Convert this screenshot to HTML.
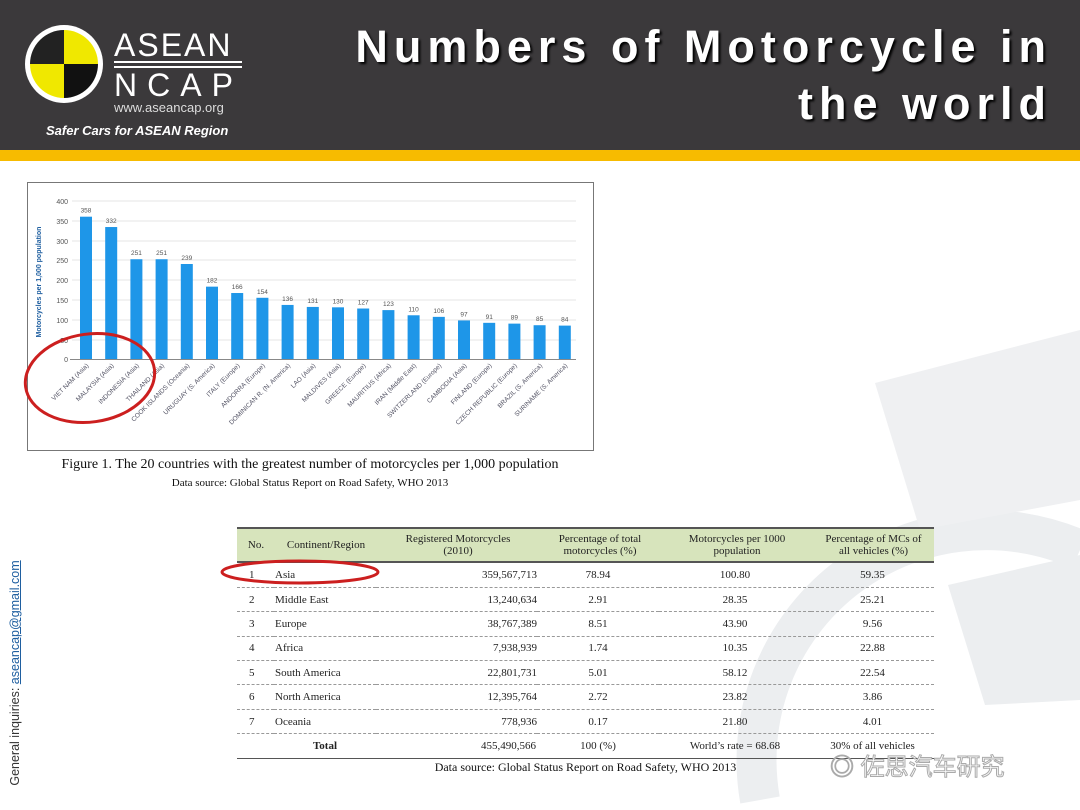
<!DOCTYPE html>
<html><head><meta charset="utf-8"><style>
body{margin:0;width:1080px;height:810px;overflow:hidden;background:#fff;position:relative;font-family:"Liberation Sans",sans-serif}
.hdr{position:absolute;left:0;top:0;width:1080px;height:150px;background:#3b393b}
.yb{position:absolute;left:0;top:150px;width:1080px;height:11px;background:#f7bb00}
.title{position:absolute;right:28px;top:18px;color:#fff;font-weight:bold;font-size:45px;letter-spacing:6px;text-align:right;line-height:57px;text-shadow:2px 2px 2px #000}
.side{position:absolute;left:-120px;top:666px;width:270px;transform:rotate(-90deg);font-size:12.5px;color:#333;white-space:nowrap;text-align:center}
.side span{color:#1f5fa0;text-decoration:underline}
table{border-collapse:collapse;font-family:"Liberation Serif",serif;font-size:11px;color:#222}
</style></head><body>
<svg style="position:absolute;left:0;top:0" width="1080" height="810">
<g fill="none" stroke="#eceef0" stroke-width="40">
<path d="M760 800 A230 230 0 0 1 1080 550"/>
</g>
<path d="M875 383 L1080 330 L1080 500 L920 530 Z" fill="#eff0f2"/>
<path d="M948 585 L1080 555 L1080 700 L985 705 Z" fill="#eceef0"/>
</svg>
<div class="hdr"></div><div class="yb"></div>
<svg style="position:absolute;left:0;top:0" width="360" height="150">
<circle cx="64" cy="64" r="39" fill="#fff"/>
<path d="M64 30 A34 34 0 0 0 30 64 L64 64Z" fill="#222"/>
<path d="M64 30 A34 34 0 0 1 98 64 L64 64Z" fill="#f0e800"/>
<path d="M30 64 A34 34 0 0 0 64 98 L64 64Z" fill="#f0e800"/>
<path d="M98 64 A34 34 0 0 1 64 98 L64 64Z" fill="#111"/>
<text x="114" y="56" fill="#fff" font-size="32" font-family="Liberation Sans" letter-spacing="2">ASEAN</text>
<line x1="114" y1="62" x2="242" y2="62" stroke="#fff" stroke-width="2"/><line x1="114" y1="67" x2="242" y2="67" stroke="#fff" stroke-width="2"/>
<text x="114" y="96" fill="#fff" font-size="32" font-family="Liberation Sans" letter-spacing="10">NCAP</text>
<text x="114" y="112" fill="#ddd" font-size="13" font-family="Liberation Sans">www.aseancap.org</text>
<text x="46" y="135" fill="#fff" font-size="13" font-weight="bold" font-style="italic" font-family="Liberation Sans">Safer Cars for ASEAN Region</text>
</svg>
<div class="title">Numbers of Motorcycle in<br>the world</div>
<div class="side">General inquiries: <span>aseancap@gmail.com</span></div>

<svg style="position:absolute;left:0;top:0" width="610" height="500" font-family="Liberation Sans">
<rect x="27.5" y="182.5" width="566" height="268" fill="#fff" stroke="#777"/>
<g stroke="#e6e6e6"><line x1="72" x2="576" y1="201" y2="201"/><line x1="72" x2="576" y1="221" y2="221"/><line x1="72" x2="576" y1="241" y2="241"/><line x1="72" x2="576" y1="260" y2="260"/><line x1="72" x2="576" y1="280" y2="280"/><line x1="72" x2="576" y1="300" y2="300"/><line x1="72" x2="576" y1="320" y2="320"/><line x1="72" x2="576" y1="340" y2="340"/></g>
<line x1="70" x2="576" y1="359.5" y2="359.5" stroke="#888"/>
<g font-size="7" fill="#555" text-anchor="end"><text x="68" y="204">400</text><text x="68" y="224">350</text><text x="68" y="244">300</text><text x="68" y="263">250</text><text x="68" y="283">200</text><text x="68" y="303">150</text><text x="68" y="323">100</text><text x="68" y="343">50</text><text x="68" y="362">0</text></g>
<text transform="translate(41,282) rotate(-90)" font-size="7" font-weight="bold" fill="#1f5fa0" text-anchor="middle">Motorcycles per 1,000 population</text>
<g id="bars"></g>
<ellipse cx="90" cy="378" rx="65" ry="44" fill="none" stroke="#cc1f1f" stroke-width="3" transform="rotate(-8 90 378)"/>
<text x="310" y="468" font-family="Liberation Serif" font-size="14" text-anchor="middle" fill="#111">Figure 1. The 20 countries with the greatest number of motorcycles per 1,000 population</text>
<text x="310" y="486" font-family="Liberation Serif" font-size="11" text-anchor="middle" fill="#111">Data source: Global Status Report on Road Safety, WHO 2013</text>
</svg>

<div style="position:absolute;left:237px;top:527px;width:697px">
<table style="width:697px">
<tr style="background:#d7e4bc;height:34px;border-top:2px solid #555;border-bottom:2px solid #555;text-align:center">
<td style="width:36px">No.</td><td style="width:100px">Continent/Region</td><td style="width:160px">Registered Motorcycles<br>(2010)</td><td style="width:120px">Percentage of total<br>motorcycles (%)</td><td style="width:150px">Motorcycles per 1000<br>population</td><td>Percentage of MCs of<br>all vehicles (%)</td></tr>
</table>
<table style="width:697px" id="tb"></table>
<div style="border-top:1.5px solid #555;width:697px"></div>
<div style="font-family:'Liberation Serif',serif;font-size:12px;text-align:center;width:697px;margin-top:1px;color:#111">Data source: Global Status Report on Road Safety, WHO 2013</div>
</div>
<svg style="position:absolute;left:0;top:0" width="1080" height="810">
<ellipse cx="300" cy="572" rx="78" ry="11" fill="none" stroke="#cc1f1f" stroke-width="3"/>
</svg>
<div style="position:absolute;left:830px;top:747px;font-family:'Liberation Sans','Noto Sans CJK SC',sans-serif;font-size:24px;color:#fff;-webkit-text-stroke:1px #aaa">◎ 佐思汽车研究</div>
<script>
var v=[358,332,251,251,239,182,166,154,136,131,130,127,123,110,106,97,91,89,85,84];
var n=["VIET NAM (Asia)","MALAYSIA (Asia)","INDONESIA (Asia)","THAILAND (Asia)","COOK ISLANDS (Oceania)","URUGUAY (S. America)","ITALY (Europe)","ANDORRA (Europe)","DOMINICAN R. (N. America)","LAO (Asia)","MALDIVES (Asia)","GREECE (Europe)","MAURITIUS (Africa)","IRAN (Middle East)","SWITZERLAND (Europe)","CAMBODIA (Asia)","FINLAND (Europe)","CZECH REPUBLIC (Europe)","BRAZIL (S. America)","SURINAME (S. America)"];
var s="";
for(var i=0;i<20;i++){var x=86+25.2*i,h=v[i]*0.3975,y=359-h;
s+='<rect x="'+(x-6)+'" y="'+y+'" width="12" height="'+h+'" fill="#1e96e8"/>';
s+='<text x="'+x+'" y="'+(y-4)+'" font-size="6.5" fill="#555" text-anchor="middle">'+v[i]+'</text>';
s+='<text transform="translate('+(x+3)+',366) rotate(-45)" font-size="6.5" fill="#556" text-anchor="end">'+n[i]+'</text>';}
document.getElementById("bars").innerHTML=s;
var r=[["1","Asia","359,567,713","78.94","100.80","59.35"],["2","Middle East","13,240,634","2.91","28.35","25.21"],["3","Europe","38,767,389","8.51","43.90","9.56"],["4","Africa","7,938,939","1.74","10.35","22.88"],["5","South America","22,801,731","5.01","58.12","22.54"],["6","North America","12,395,764","2.72","23.82","3.86"],["7","Oceania","778,936","0.17","21.80","4.01"]];
var t="";
r.forEach(function(a){t+='<tr style="height:24.4px;border-bottom:1px dashed #999"><td style="width:24px;padding-left:12px">'+a[0]+'</td><td style="width:100px">'+a[1]+'</td><td style="width:160px;text-align:right;padding-right:0">'+a[2]+'</td><td style="width:120px;text-align:center">'+a[3]+'</td><td style="width:150px;text-align:center">'+a[4]+'</td><td style="text-align:center">'+a[5]+'</td></tr>';});
t+='<tr style="height:24px"><td></td><td style="text-align:center;font-weight:bold">Total</td><td style="text-align:right">455,490,566</td><td style="text-align:center">100 (%)</td><td style="text-align:center">World\u2019s rate = 68.68</td><td style="text-align:center">30% of all vehicles</td></tr>';
document.getElementById("tb").innerHTML=t;
</script>
</body></html>
